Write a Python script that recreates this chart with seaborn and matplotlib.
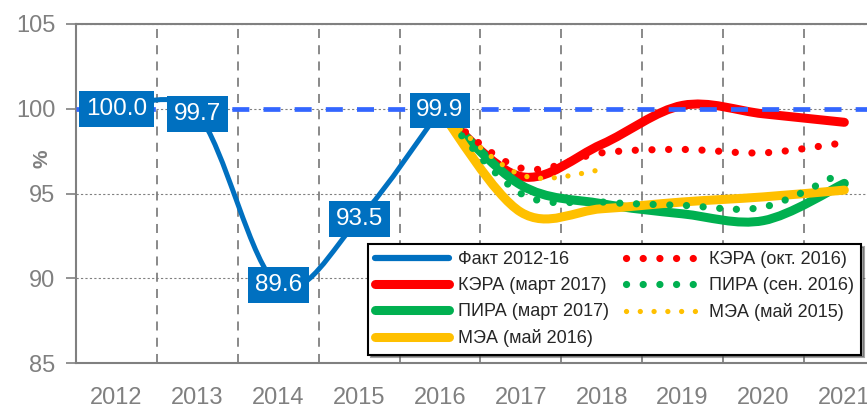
import matplotlib
matplotlib.use("Agg")
import matplotlib.pyplot as plt
import seaborn as sns
import numpy as np
from matplotlib.path import Path
from matplotlib.patches import PathPatch
from matplotlib.lines import Line2D

sns.set_theme(style="white")
plt.rcParams['font.family'] = ['Liberation Sans', 'DejaVu Sans']

years = ['2012', '2013', '2014', '2015', '2016', '2017', '2018', '2019', '2020', '2021']

# факт 2012-2016
fact = [100.0, 99.7, 89.6, 93.5, 99.9]
# прогнозы 2016-2021
kera_mar17 = [99.9, 96.0, 97.9, 100.2, 99.7, 99.2]
pira_mar17 = [99.9, 95.5, 94.4, 93.8, 93.4, 95.6]
mea_may16 = [99.9, 93.9, 94.1, 94.5, 94.8, 95.2]
kera_oct16 = [99.9, 96.5, 97.4, 97.6, 97.4, 98.0]
pira_sep16 = [99.9, 95.0, 94.5, 94.3, 94.2, 96.3]
mea_may15 = [99.9, 96.1, 96.4]

labels = ['Факт 2012-16', 'КЭРА (март 2017)', 'ПИРА (март 2017)', 'МЭА (май 2016)',
          'КЭРА (окт. 2016)', 'ПИРА (сен. 2016)', 'МЭА (май 2015)']

BLUE = '#0070C0'
RED = '#FF0000'
GREEN = '#00B050'
YELLOW = '#FFC000'
GRAY = '#808080'


def smooth_path(xs, ys):
    # сглаженная линия как в Excel (Catmull-Rom -> Bezier)
    pts = np.column_stack([xs, ys]).astype(float)
    n = len(pts)
    verts = [pts[0]]
    codes = [Path.MOVETO]
    for i in range(n - 1):
        p0 = pts[max(i - 1, 0)]
        p1 = pts[i]
        p2 = pts[i + 1]
        p3 = pts[min(i + 2, n - 1)]
        verts += [p1 + (p2 - p0) / 6, p2 - (p3 - p1) / 6, p2]
        codes += [Path.CURVE4] * 3
    return Path(verts, codes)


fig = plt.figure(figsize=(8.67, 4.09), dpi=100)
ax = fig.add_axes([76 / 867, 1 - 363 / 409, 1 - 76 / 867, (363 - 24) / 409])
ax.set_xlim(-0.5, 9.28)
ax.set_ylim(85, 105)

start = years.index('2016')


def draw(values, color, lw, ls='-', z=3, x0=start):
    xs = np.arange(x0, x0 + len(values))
    p = PathPatch(smooth_path(xs, values), fill=False, edgecolor=color, lw=lw,
                  linestyle=ls, capstyle='round', joinstyle='round', zorder=z)
    ax.add_patch(p)


dot_red = (0, (0.01, 2.3))
dot_yel = (0, (0.01, 2.6))

draw(kera_mar17, RED, 6.5)
draw(pira_mar17, GREEN, 6.5)
draw(mea_may16, YELLOW, 6.5)
draw(kera_oct16, RED, 5.2, dot_red, z=4)
draw(pira_sep16, GREEN, 5.2, dot_red, z=4)
draw(mea_may15, YELLOW, 3.8, dot_yel, z=4)

ax.axhline(100, color='#3366FF', lw=3.4, linestyle=(0, (3.6, 3.0)), zorder=5)

draw(fact, BLUE, 3.6, z=6, x0=0)
for i, v in enumerate(fact):
    ax.text(i, v, f'{v:.1f}', ha='center', va='center', color='white', fontsize=17.5,
            zorder=7, bbox=dict(boxstyle='square,pad=0.28', fc=BLUE, ec='none'))

# оси и сетка
ax.set_xticks(range(len(years)))
ax.set_xticklabels(years)
ax.set_xticks(np.arange(0.5, 9, 1), minor=True)
ax.set_yticks([85, 90, 95, 100, 105])
ax.tick_params(axis='x', which='both', length=0, pad=17, labelsize=17, labelcolor=GRAY)
ax.tick_params(axis='y', length=7, width=1.2, color=GRAY, pad=8, labelsize=17,
               labelcolor=GRAY, left=True)
ax.grid(which='minor', axis='x', color=GRAY, lw=1.3, linestyle=(0, (5, 4)))
ax.grid(which='major', axis='y', color=GRAY, lw=0.8, linestyle=(0, (2, 2)))
ax.grid(which='major', axis='x', visible=False)
for s in ['left', 'bottom', 'top']:
    ax.spines[s].set_color(GRAY)
    ax.spines[s].set_linewidth(1.5)
ax.spines['right'].set_visible(False)
fig.text(42 / 867, 1 - 159 / 409, '%', rotation=90, ha='center', va='center',
         color=GRAY, fontsize=15, fontweight='bold')

handles = [
    Line2D([], [], color=BLUE, lw=4.5, solid_capstyle='round'),
    Line2D([], [], color=RED, lw=6.5, solid_capstyle='round'),
    Line2D([], [], color=GREEN, lw=6.5, solid_capstyle='round'),
    Line2D([], [], color=YELLOW, lw=6.5, solid_capstyle='round'),
    Line2D([], [], color=RED, lw=5.2, linestyle=dot_red, dash_capstyle='round'),
    Line2D([], [], color=GREEN, lw=5.2, linestyle=dot_red, dash_capstyle='round'),
    Line2D([], [], color=YELLOW, lw=3.8, linestyle=dot_yel, dash_capstyle='round'),
]
leg = fig.legend(handles, labels, loc='upper left', bbox_to_anchor=(368 / 867, 1 - 244 / 409),
                 ncol=2, fontsize=13, frameon=True, fancybox=False, shadow=True,
                 handlelength=4.1, handletextpad=0.5, columnspacing=0.9, labelspacing=0.5,
                 borderpad=0.4, borderaxespad=0)
leg.get_frame().set_edgecolor('black')
leg.get_frame().set_linewidth(1.5)
leg.set_zorder(10)

fig.savefig('out.png', dpi=100)
